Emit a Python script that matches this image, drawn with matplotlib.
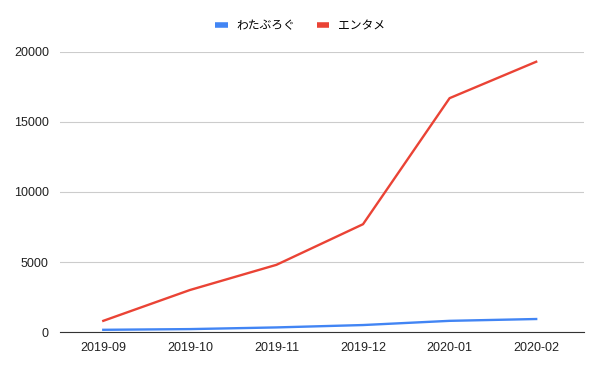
import matplotlib
matplotlib.use('Agg')
import matplotlib.pyplot as plt
import numpy as np

plt.rcParams['font.family'] = ['Liberation Sans', 'Noto Sans CJK JP', 'DejaVu Sans']

MONTHS = ['2019-09', '2019-10', '2019-11', '2019-12', '2020-01', '2020-02']
WATABLOG = [160, 210, 330, 500, 800, 930]
ENTAME = [800, 3000, 4800, 7700, 16700, 19300]

fig = plt.figure(figsize=(6, 3.71), dpi=100)
ax = fig.add_axes([0.1, 0.105, 0.873, 0.755])

xpos = np.arange(len(MONTHS))
ax.plot(xpos, WATABLOG, color='#4285F4', lw=1.7, label='わたぶろぐ')
ax.plot(xpos, ENTAME, color='#EA4335', lw=1.7, label='エンタメ')

ax.set_xlim(-0.5, len(MONTHS) - 0.45)
ax.set_ylim(0, 20000)
ax.set_yticks([0, 5000, 10000, 15000, 20000])
ax.set_xticks(xpos, MONTHS)
ax.grid(axis='y', color='#cccccc', lw=0.8)
ax.set_axisbelow(True)
for s in ['top', 'right', 'left']:
    ax.spines[s].set_visible(False)
ax.spines['bottom'].set_color('#333333')
ax.tick_params(axis='both', length=0, labelsize=9, colors='#222222')
ax.tick_params(axis='y', pad=8)
ax.tick_params(axis='x', pad=7)

leg = fig.legend(loc='center', bbox_to_anchor=(0.5, 0.93), ncol=2, frameon=False,
                 handlelength=1.1, handletextpad=0.7, columnspacing=1.8,
                 prop={'family': ['Noto Sans CJK JP', 'DejaVu Sans'], 'size': 8.5})
for line in leg.get_lines():
    line.set_linewidth(4)
    line.set_solid_capstyle('butt')

fig.savefig('out.png', dpi=100)
